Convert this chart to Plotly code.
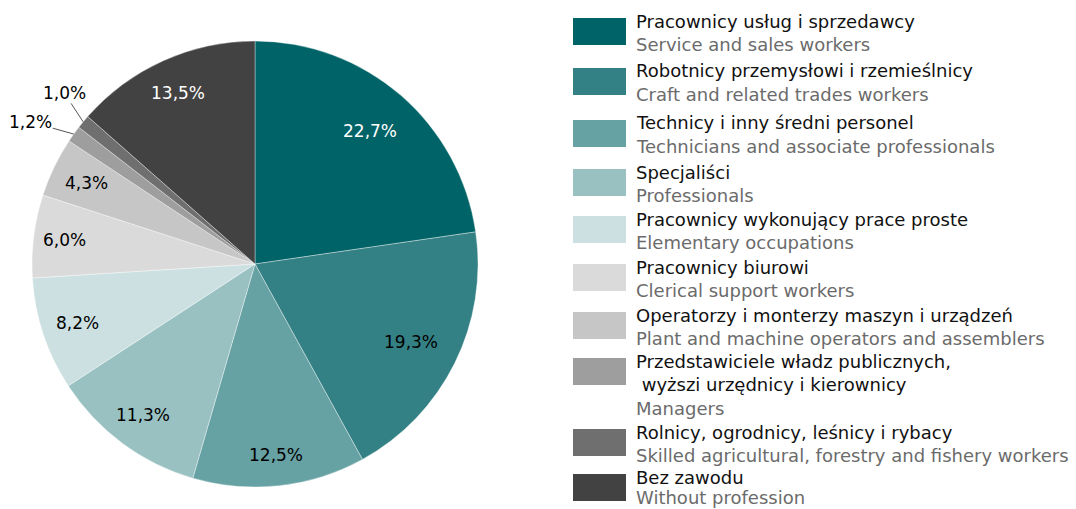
import math
import plotly.graph_objects as go

# ---- data ----
labels_pl = [
    "Pracownicy usług i sprzedawcy",
    "Robotnicy przemysłowi i rzemieślnicy",
    "Technicy i inny średni personel",
    "Specjaliści",
    "Pracownicy wykonujący prace proste",
    "Pracownicy biurowi",
    "Operatorzy i monterzy maszyn i urządzeń",
    "Przedstawiciele władz publicznych,<br> wyższi urzędnicy i kierownicy",
    "Rolnicy, ogrodnicy, leśnicy i rybacy",
    "Bez zawodu",
]
labels_en = [
    "Service and sales workers",
    "Craft and related trades workers",
    "Technicians and associate professionals",
    "Professionals",
    "Elementary occupations",
    "Clerical support workers",
    "Plant and machine operators and assemblers",
    "Managers",
    "Skilled agricultural, forestry and fishery workers",
    "Without profession",
]
values = [22.7, 19.3, 12.5, 11.3, 8.2, 6.0, 4.3, 1.2, 1.0, 13.5]

# ---- style ----
colors = ["#006367", "#348185", "#66a1a3", "#99c1c2", "#cce0e1",
          "#dadada", "#c6c6c6", "#9e9e9e", "#6f6f6f", "#424242"]
label_colors = ["#ffffff", "#000000", "#000000", "#000000", "#000000",
                "#000000", "#000000", "#000000", "#000000", "#ffffff"]
label_radius = [0.79, 0.78, 0.86, 0.84, 0.84, 0.86, 0.84, 1.0, 1.0, 0.84]
FONT = "DejaVu Sans"
LEG_SIZE = 18
LAB_SIZE = 17
W, H = 1076, 509
cx, cy, R = 255, 264, 223          # pie centre / radius in pixels
outside_offsets = {7: (-43, -12), 8: (-19, -29)}   # (ax, ay) for small slices

fig = go.Figure(go.Pie(
    labels=[p.replace("<br>", "") for p in labels_pl],
    values=values,
    sort=False,
    direction="clockwise",
    rotation=0,
    marker=dict(colors=colors, line=dict(width=0.6, color="rgba(255,255,255,0.6)")),
    textinfo="none",
    hoverinfo="none",
    showlegend=False,
    domain=dict(x=[(cx - R) / W, (cx + R) / W],
                y=[1 - (cy + R) / H, 1 - (cy - R) / H]),
))

def px2paper(x, y):
    return x / W, 1 - y / H

annotations = []
total = sum(values)
cum = 0.0
for i, v in enumerate(values):
    mid = (cum + v / 2) / total
    cum += v
    th = 2 * math.pi * mid
    txt = f"{v:.1f}".replace(".", ",") + "%"
    rr = label_radius[i] * R
    px, py = cx + rr * math.sin(th), cy - rr * math.cos(th)
    x, y = px2paper(px, py)
    if i in outside_offsets:
        ax, ay = outside_offsets[i]
        annotations.append(dict(
            x=x, y=y, xref="paper", yref="paper", text=txt,
            showarrow=True, arrowhead=0, arrowwidth=1, arrowcolor="#555555",
            ax=ax, ay=ay, standoff=0, borderpad=0,
            font=dict(family=FONT, size=LAB_SIZE, color="#000000")))
    else:
        annotations.append(dict(
            x=x, y=y, xref="paper", yref="paper", text=txt, showarrow=False,
            xanchor="center", yanchor="middle",
            font=dict(family=FONT, size=LAB_SIZE, color=label_colors[i])))

# ---- custom legend ----
sq_tops = [18, 68, 120, 169, 216, 264, 312, 358, 429, 474]
SQ_X0, SQ_X1, SQ_H = 573, 626, 27
TXT_X = 635
LINE = 23.5
BOX = 1.3 * LEG_SIZE
shapes = []

def legend_text(txt, ypx, color):
    ypx = min(ypx, H - BOX / 2)
    x, y = px2paper(TXT_X, ypx)
    annotations.append(dict(x=x, y=y, xref="paper", yref="paper",
                            text=txt, showarrow=False, borderpad=0,
                            xanchor="left", yanchor="middle",
                            font=dict(family=FONT, size=LEG_SIZE, color=color)))

for i in range(len(values)):
    t = sq_tops[i]
    x0, y1 = px2paper(SQ_X0, t)
    x1, y0 = px2paper(SQ_X1, t + SQ_H)
    shapes.append(dict(type="rect", xref="paper", yref="paper",
                       x0=x0, x1=x1, y0=y0, y1=y1,
                       fillcolor=colors[i], line=dict(width=0)))
    lines = labels_pl[i].split("<br>")
    for k, ln in enumerate(lines):
        legend_text(ln, t + 3 + k * LINE, "#111111")
    legend_text(labels_en[i], t + 3 + len(lines) * LINE, "#6b6b6b")

fig.update_layout(
    width=W, height=H,
    margin=dict(l=0, r=0, t=0, b=0),
    paper_bgcolor="#ffffff",
    plot_bgcolor="#ffffff",
    annotations=annotations,
    shapes=shapes,
    font=dict(family=FONT),
)

fig.write_html("out.html", config={"displayModeBar": False},
               post_script="document.body.style.margin='0';document.body.style.overflow='hidden';")
